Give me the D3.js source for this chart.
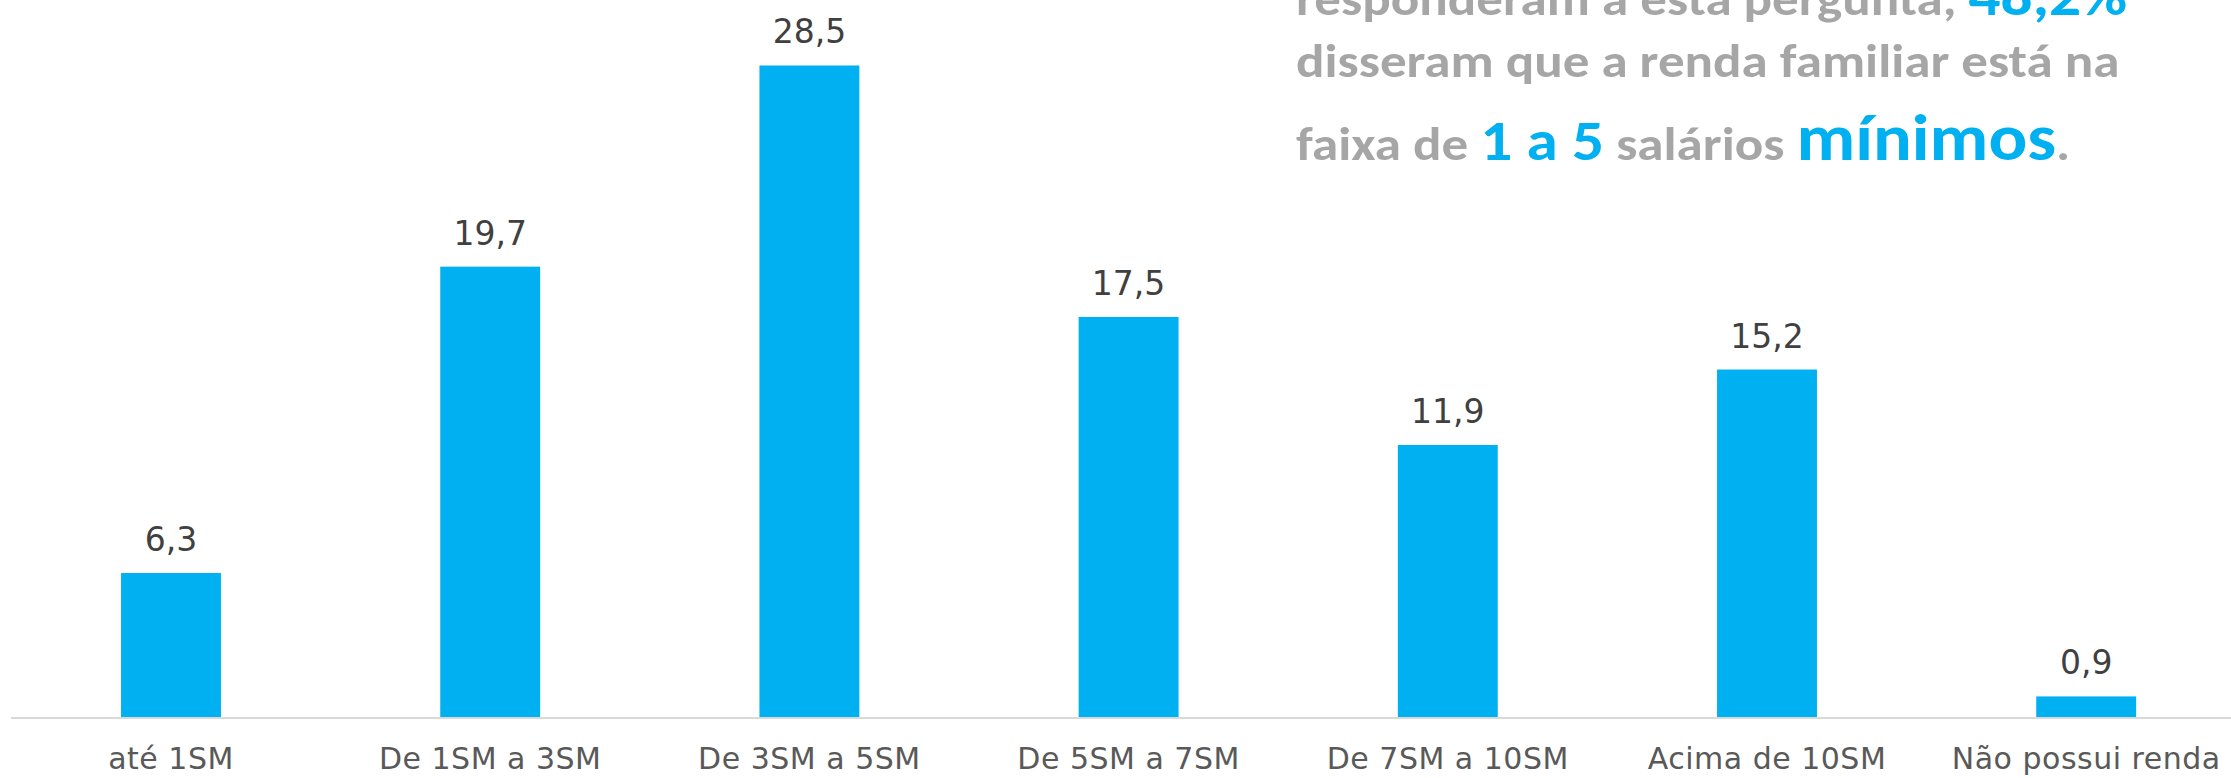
<!DOCTYPE html>
<html>
<head>
<meta charset="utf-8">
<script src="https://cdn.jsdelivr.net/npm/d3@7"></script>
<style>
  html, body { margin: 0; padding: 0; background: #fff; overflow: hidden; }
</style>
</head>
<body>
<div id="chart"></div>
<script>
// data
const categories = ["até 1SM", "De 1SM a 3SM", "De 3SM a 5SM", "De 5SM a 7SM", "De 7SM a 10SM", "Acima de 10SM", "Não possui renda"]
const values = [6.3, 19.7, 28.5, 17.5, 11.9, 15.2, 0.9]

// annotation text, one array per line: [text, style]
const note1 = [["responderam a esta pergunta, ", ""], ["48,2%", "blue"]]
const note2 = [["disseram que a renda familiar está na", ""]]
const note3 = [["faixa de ", ""], ["1 a 5", "blue"], [" salários ", ""], ["mínimos", "big"], [".", ""]]

const width = 2231
const height = 778

const svg = d3.select("#chart")
  .append("svg")
  .attr("width", width)
  .attr("height", height)

// scale X
const x = d3.scaleBand()
  .domain(categories)
  .range([11.4, 11.4 + 7 * 319.2])
  .paddingInner(0.687)
  .paddingOuter(0.3435)

// scale Y
const y = d3.scaleLinear()
  .domain([0, 30])
  .range([717, 31.2])

const data = categories.map((c, i) => ({cat: c, val: values[i]}))

// bars
svg.selectAll("rect.bar")
  .data(data)
  .join("rect")
  .attr("class", "bar")
  .attr("x", d => x(d.cat))
  .attr("y", d => y(d.val))
  .attr("width", x.bandwidth())
  .attr("height", d => y(0) - y(d.val))
  .attr("fill", "#00B0F0")

// baseline
svg.append("line")
  .attr("x1", 11)
  .attr("x2", width)
  .attr("y1", y(0) + 1)
  .attr("y2", y(0) + 1)
  .attr("stroke", "#D9D9D9")
  .attr("stroke-width", 2)

// value labels
svg.selectAll("text.val")
  .data(data)
  .join("text")
  .attr("class", "val")
  .attr("x", d => x(d.cat) + x.bandwidth() / 2)
  .attr("y", d => y(d.val) - 22)
  .attr("text-anchor", "middle")
  .style("font-family", "'DejaVu Sans', sans-serif")
  .style("font-size", "33px")
  .attr("fill", "#404040")
  .text(d => d.val.toFixed(1).replace(".", ","))

// category labels
svg.selectAll("text.cat")
  .data(data)
  .join("text")
  .attr("class", "cat")
  .attr("x", d => x(d.cat) + x.bandwidth() / 2)
  .attr("y", 769)
  .attr("text-anchor", "middle")
  .style("font-family", "'DejaVu Sans', sans-serif")
  .style("font-size", "30px")
  .style("letter-spacing", "0.5px")
  .attr("fill", "#595959")
  .text(d => d.cat)

// annotation (text box, slightly stretched like the original)
const note = svg.append("g")
  .attr("transform", "translate(1296,0) scale(1.13,1)")
  .style("font-family", "Carlito, Calibri, Lato, sans-serif")
  .style("font-weight", "bold")

const sizes = {"": "47px", blue: "56px", big: "64px"}

;[[note1, 15], [note2, 77], [note3, 160]].forEach(([line, by]) => {
  const t = note.append("text")
    .attr("x", 0)
    .attr("y", by)
  t.selectAll("tspan")
    .data(line)
    .join("tspan")
    .attr("fill", d => d[1] ? "#00B0F0" : "#A6A6A6")
    .style("font-size", d => sizes[d[1]])
    .text(d => d[0])
})
</script>
</body>
</html>
